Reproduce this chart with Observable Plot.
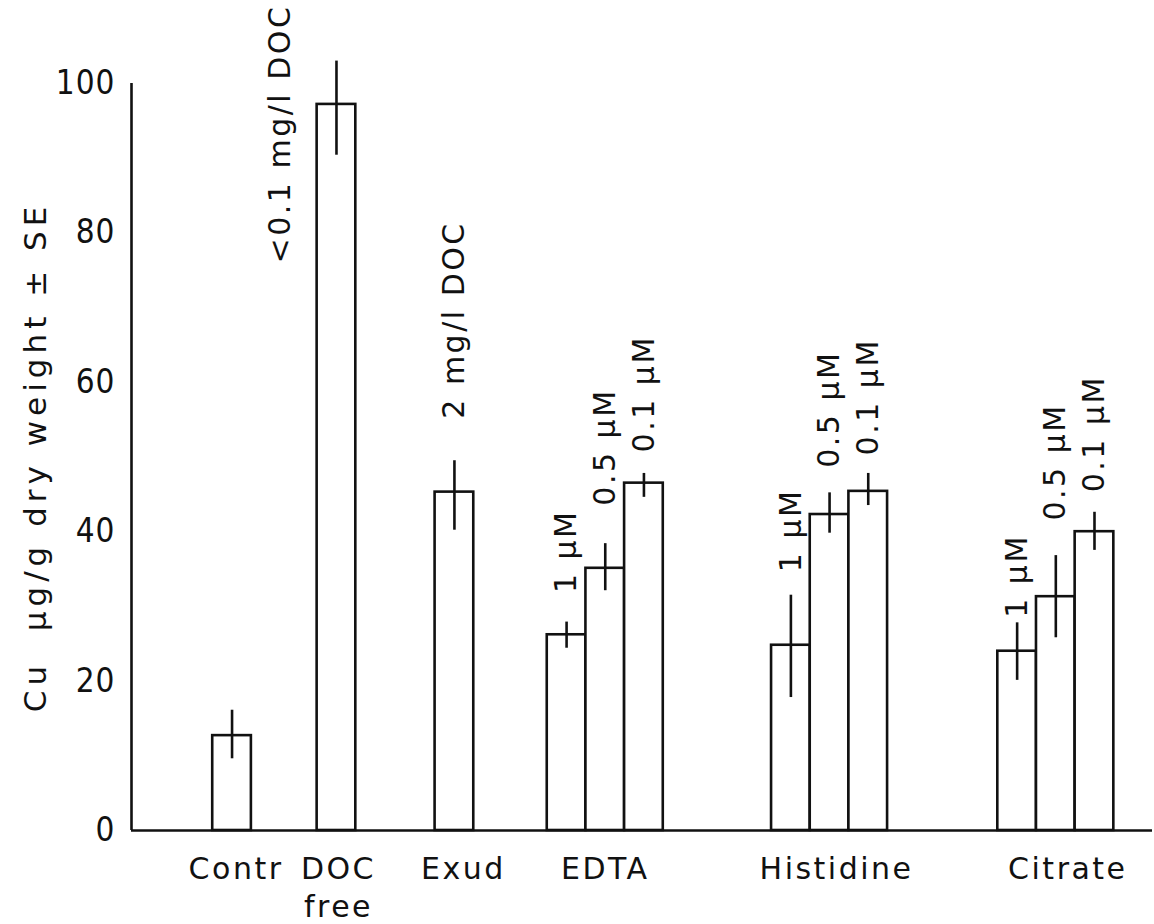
<!DOCTYPE html>
<html><head><meta charset="utf-8">
<script src="https://cdn.jsdelivr.net/npm/d3@7"></script>
<script src="https://cdn.jsdelivr.net/npm/@observablehq/plot@0.6"></script>
<style>body{margin:0;background:#fff}</style>
</head><body><div id="chart"></div>
<script>
// ---- data ----
const groups = ["Contr", "DOC\nfree", "Exud", "EDTA", "Histidine", "Citrate"];
const barGroup = ["Contr", "DOC\nfree", "Exud", "EDTA", "EDTA", "EDTA", "Histidine", "Histidine", "Histidine", "Citrate", "Citrate", "Citrate"];
const barLabels = ["", "<0.1 mg/l DOC", "2 mg/l DOC", "1 µM", "0.5 µM", "0.1 µM", "1 µM", "0.5 µM", "0.1 µM", "1 µM", "0.5 µM", "0.1 µM"];
const cuMean = [12.7, 97.2, 45.3, 26.2, 35.1, 46.5, 24.8, 42.3, 45.4, 24.0, 31.3, 40.0];
const seHigh = [16.1, 103.0, 49.5, 27.9, 38.4, 47.8, 31.5, 45.2, 47.8, 27.8, 36.8, 42.6];
const seLow  = [9.6, 90.4, 40.2, 24.4, 32.1, 44.6, 17.8, 39.8, 43.5, 20.1, 25.8, 37.5];
const yTicks = [0, 20, 40, 60, 80, 100];
const yLabel = "Cu  µg/g dry weight ± SE";

// ---- layout / style (not data) ----
const groupGap = [0, 1.7, 2.05, 1.9, 2.8, 2.85];        // gap before each group, in bar widths
const labelGap = [0, 0, 42, 29, 38, 21, 23, 25, 18, 5, 35, 20]; // px between SE top and label
const groupLabelShift = [4, 2, 9, 0, 7, 12];           // px nudge of group labels

let pos = 0;
const bars = [];
groups.forEach((g, gi) => {
  pos += groupGap[gi];
  barGroup.forEach((bg, i) => {
    if (bg === g) {
      bars.push({group: g, label: barLabels[i], mean: cuMean[i], hi: seHigh[i], lo: seLow[i], x1: pos, x2: pos + 1, xc: pos + 0.5, gap: labelGap[i]});
      pos += 1;
    }
  });
});
const groupCenters = groups.map((g, gi) => {
  const b = bars.filter(d => d.group === g);
  return {group: g, x: (b[0].x1 + b[b.length - 1].x2) / 2, shift: groupLabelShift[gi]};
});
const annotated = bars.filter(d => d.group !== "DOC\nfree" && d.label);
const xMin = -2.1, xMax = pos + 1.0;
const ink = "#111";
const font = "'DejaVu Sans', sans-serif";

const chart = Plot.plot({
  width: 1154,
  height: 924,
  marginLeft: 131,
  marginRight: 2,
  marginTop: 83,
  marginBottom: 94,
  x: {domain: [xMin, xMax], axis: null},
  y: {domain: [0, 100], axis: null},
  style: {fontFamily: font, fontSize: "30px", letterSpacing: "2.5px", color: ink, background: "#fff"},
  marks: [
    Plot.rect(bars, {x1: "x1", x2: "x2", y1: 0, y2: "mean", fill: "#fff", stroke: ink, strokeWidth: 2.6}),
    Plot.ruleX(bars, {x: "xc", y1: "lo", y2: "hi", stroke: ink, strokeWidth: 2.6}),
    Plot.ruleX([xMin], {y1: 0, y2: 100, stroke: ink, strokeWidth: 2.6}),
    Plot.ruleY([0], {x1: xMin, x2: xMax, stroke: ink, strokeWidth: 2.6}),
    Plot.axisY({ticks: yTicks, tickSize: 0, tickPadding: 16, label: null, fill: ink, className: "yticks"}),
    Plot.text(annotated, {x: "xc", y: "hi", text: "label", rotate: -90, textAnchor: "start", lineAnchor: "middle", fill: ink,
      render: (index, scales, values, dimensions, context, next) => {
        const g = next(index, scales, values, dimensions, context);
        d3.select(g).selectAll("text").each(function(i) {
          d3.select(this).attr("transform", `translate(${values.x[i]},${values.y[i] - annotated[i].gap}) rotate(-90)`);
        });
        return g;
      }}),
    Plot.text(bars.filter(d => d.group === "DOC\nfree"), {x: "xc", y: "mean", text: "label", rotate: -90, textAnchor: "start", lineAnchor: "middle", dx: -56, dy: 159, fill: ink}),
    Plot.text(groupCenters, {x: (d) => d.x, y: 0, text: "group", textAnchor: "middle", lineAnchor: "top", lineHeight: 1.25, dy: 22, fill: ink,
      render: (index, scales, values, dimensions, context, next) => {
        const g = next(index, scales, values, dimensions, context);
        d3.select(g).selectAll("text").each(function(i) {
          d3.select(this).attr("transform", `translate(${values.x[i] + groupCenters[i].shift},${values.y[i]})`);
        });
        return g;
      }}),
    Plot.text([yLabel], {frameAnchor: "left", text: d => d, rotate: -90, textAnchor: "middle", lineAnchor: "middle", dx: -95, fill: ink, fontSize: 31})
  ]
});
// style tweaks: taller, narrower tick digits; wider-spaced axis title
d3.select(chart).selectAll("text").filter(function() { return yTicks.map(String).includes(this.textContent); })
  .attr("font-size", 33).style("font-stretch", "condensed").attr("letter-spacing", "1px");
d3.select(chart).selectAll("text").filter(function() { return this.textContent === yLabel; })
  .attr("letter-spacing", "5px");
document.getElementById("chart").append(chart);
</script>
</body></html>
